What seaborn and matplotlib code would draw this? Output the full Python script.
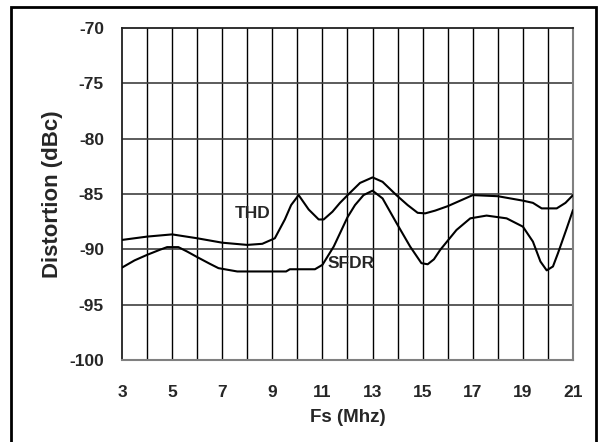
import numpy as np
import pandas as pd
import matplotlib
matplotlib.use("Agg")
import matplotlib.pyplot as plt
import seaborn as sns
from matplotlib.patches import Rectangle

# ---- data ----
thd_f = [3, 4, 5, 6, 7, 8, 8.6, 9.1, 9.5, 9.75, 10.05, 10.45, 10.85, 11.05, 11.4,
         11.7, 12.05, 12.5, 13, 13.4, 13.95, 14.4, 14.8, 15.1, 15.5, 16, 16.7, 17,
         18, 19, 19.4, 19.75, 20.35, 20.7, 21]
thd_db = [-89.15, -88.85, -88.65, -89.0, -89.4, -89.6, -89.5, -89.0, -87.3, -86.0,
          -85.1, -86.4, -87.3, -87.3, -86.6, -85.8, -85.0, -84.0, -83.5, -83.9,
          -85.1, -86.0, -86.7, -86.75, -86.5, -86.1, -85.4, -85.1, -85.2, -85.6,
          -85.8, -86.3, -86.3, -85.8, -85.1]

sfdr_f = [3, 3.5, 4, 4.5, 4.8, 5.25, 5.6, 6, 6.5, 6.85, 7.6, 8, 9, 9.55, 9.7, 10.7,
          11, 11.45, 12.0, 12.3, 12.64, 13.0, 13.4, 13.95, 14.5, 14.95, 15.2, 15.45,
          15.7, 16.35, 16.9, 17.55, 18.35, 19.0, 19.4, 19.7, 19.95, 20.2, 20.4,
          20.75, 21]
sfdr_db = [-91.65, -91.0, -90.5, -90.05, -89.8, -89.8, -90.2, -90.7, -91.3, -91.7,
           -92.0, -92.0, -92.0, -92.0, -91.8, -91.8, -91.4, -89.75, -87.1, -86.0,
           -85.1, -84.7, -85.4, -87.6, -89.75, -91.25, -91.35, -90.9, -90.05,
           -88.25, -87.2, -86.95, -87.2, -87.95, -89.3, -91.1, -91.9, -91.55,
           -90.35, -88.1, -86.45]

x_ticks = [3, 5, 7, 9, 11, 13, 15, 17, 19, 21]
y_ticks = [-100, -95, -90, -85, -80, -75, -70]
series_labels = ["THD", "SFDR"]

df = pd.concat([
    pd.DataFrame({"Fs": thd_f, "dB": thd_db, "series": series_labels[0]}),
    pd.DataFrame({"Fs": sfdr_f, "dB": sfdr_db, "series": series_labels[1]}),
])

sns.set_style("white")
plt.rcParams["font.family"] = ["Liberation Sans", "DejaVu Sans"]
plt.rcParams["axes.unicode_minus"] = False

W, H = 601, 442
fig = plt.figure(figsize=(W / 100, H / 100), dpi=100)
ax = fig.add_axes([122 / W, 1 - 360 / H, (573 - 122) / W, (360 - 28) / H])

sns.lineplot(data=df, x="Fs", y="dB", hue="series", units="series",
             estimator=None, sort=False,
             palette={"THD": "black", "SFDR": "black"},
             linewidth=1.5, legend=False, ax=ax, zorder=3)

ax.set_xlim(3, 21)
ax.set_ylim(-100, -70)
ax.set_xticks(x_ticks)
ax.set_yticks(y_ticks)

ax.grid(False)
for xv in range(4, 21):
    ax.axvline(xv, color="black", lw=1.0, zorder=1)
for yv in y_ticks[1:-1]:
    ax.axhline(yv, color="#404040", lw=1.2, zorder=1)

for side in ["left", "top"]:
    ax.spines[side].set_color("#202020")
    ax.spines[side].set_linewidth(1.3)
for side in ["right", "bottom"]:
    ax.spines[side].set_color("#808080")
    ax.spines[side].set_linewidth(1.5)

ax.tick_params(axis="y", which="major", direction="out", length=6, width=1,
               color="#404040", pad=7, labelsize=12.5)
ax.tick_params(axis="x", which="both", length=0, pad=18, labelsize=12.5)
for lab in ax.get_xticklabels() + ax.get_yticklabels():
    lab.set_fontweight("bold")

ax.set_xlabel("Fs (Mhz)", fontsize=13.5, fontweight="bold")
ax.xaxis.set_label_coords(0.5, (360 - 417) / 332)
ax.xaxis.label.set_va("center")
ax.set_ylabel("Distortion (dBc)", fontsize=16, fontweight="bold")
ax.yaxis.set_label_coords((53 - 122) / 451, 0.5)
ax.yaxis.label.set_va("center")

ax.text(8.22, -86.75, "THD", ha="center", va="center", fontsize=12.5,
        fontweight="bold", zorder=4)
ax.text(12.14, -91.3, "SFDR", ha="center", va="center", fontsize=12.5,
        fontweight="bold", zorder=4)

fig.patches.append(Rectangle((11 / W, -0.05), (596 - 11) / W, 1 - 7 / H + 0.05,
                             transform=fig.transFigure, fill=False,
                             edgecolor="black", linewidth=2))

fig.savefig("out.png", dpi=100)
